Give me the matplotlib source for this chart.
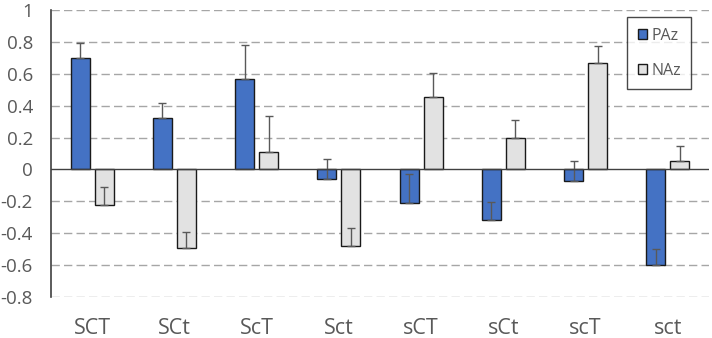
import matplotlib.pyplot as plt
import numpy as np

plt.rcParams['font.family'] = ['Open Sans', 'DejaVu Sans']

categories = ['SCT', 'SCt', 'ScT', 'Sct', 'sCT', 'sCt', 'scT', 'sct']
paz = [0.70, 0.32, 0.57, -0.06, -0.21, -0.32, -0.07, -0.60]
paz_err = [0.095, 0.095, 0.21, 0.125, 0.18, 0.115, 0.12, 0.10]
naz = [-0.22, -0.49, 0.11, -0.48, 0.455, 0.195, 0.67, 0.055]
naz_err = [0.11, 0.10, 0.225, 0.115, 0.15, 0.115, 0.105, 0.095]
yticks = [-0.8, -0.6, -0.4, -0.2, 0, 0.2, 0.4, 0.6, 0.8, 1]
ytick_labels = ['-0.8', '-0.6', '-0.4', '-0.2', '0', '0.2', '0.4', '0.6', '0.8', '1']

fig = plt.figure(figsize=(7.12, 3.38), dpi=100)
ax = fig.add_axes([0.0716, 0.1213, 0.9242, 0.8491])

x = np.arange(len(categories))
w = 0.23
off = 0.146
err_kw = dict(ecolor='#595959', elinewidth=1.0, capsize=3, capthick=1.0)

ax.bar(x - off, paz, w, color='#4472C4', edgecolor='#1a1a1a', linewidth=1.0,
       yerr=[np.zeros(len(paz)), paz_err], error_kw=err_kw, label='PAz', zorder=3)
ax.bar(x + off, naz, w, color='#E2E2E2', edgecolor='#1a1a1a', linewidth=1.0,
       yerr=[np.zeros(len(naz)), naz_err], error_kw=err_kw, label='NAz', zorder=3)

ax.set_xlim(-0.5, len(categories) - 0.5)
ax.set_ylim(-0.8, 1.0)
ax.set_yticks(yticks)
ax.set_yticklabels(ytick_labels)
ax.set_xticks(x)
ax.set_xticklabels(categories)

for y in yticks:
    if y != 0:
        ax.axhline(y, color='#A6A6A6', lw=1.0, ls=(0, (6, 3)), zorder=1)
ax.axhline(0, color='#404040', lw=1.0, zorder=4)

for s in ['top', 'right', 'bottom']:
    ax.spines[s].set_visible(False)
ax.spines['left'].set_color('#404040')
ax.spines['left'].set_linewidth(1.2)

ax.tick_params(axis='y', length=0, pad=13, labelsize=13.5, labelcolor='#595959')
ax.tick_params(axis='x', length=0, pad=15, labelsize=15.5, labelcolor='#595959')

leg = ax.legend(loc='upper right', bbox_to_anchor=(0.973, 0.975), fontsize=11.5,
                frameon=True, fancybox=False, edgecolor='#1a1a1a',
                handlelength=0.6, handleheight=0.6, handletextpad=0.25,
                labelspacing=1.2, borderpad=0.65, borderaxespad=0)
for t in leg.get_texts():
    t.set_color('#595959')
leg.get_frame().set_linewidth(1.0)

fig.savefig('out.png', dpi=100)
